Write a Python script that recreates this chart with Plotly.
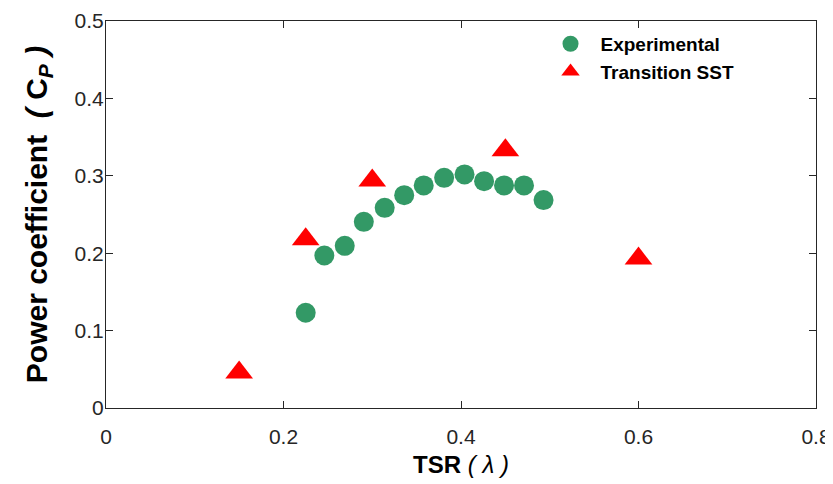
import plotly.graph_objects as go

# Experimental data
exp_tsr = [0.225, 0.246, 0.269, 0.2905, 0.314, 0.336, 0.358, 0.381, 0.404, 0.426, 0.4485, 0.471, 0.493]
exp_cp = [0.123, 0.197, 0.2095, 0.2405, 0.2586, 0.275, 0.2876, 0.2974, 0.3018, 0.2931, 0.2876, 0.2876, 0.2686]

# Transition SST simulation
sst_tsr = [0.15, 0.225, 0.30, 0.45, 0.60]
sst_cp = [0.046, 0.218, 0.294, 0.333, 0.193]

x_ticks = [0, 0.2, 0.4, 0.6, 0.8]
y_ticks = [0, 0.1, 0.2, 0.3, 0.4, 0.5]

axis_color = "#262626"
font_family = "Arial, Liberation Sans, sans-serif"

fig = go.Figure()
fig.add_trace(go.Scatter(
    x=exp_tsr, y=exp_cp, mode="markers", name="Experimental",
    marker=dict(symbol="circle", size=20, color="#339966", line=dict(width=0)),
))
fig.add_trace(go.Scatter(
    x=sst_tsr, y=sst_cp, mode="markers", name="Transition SST",
    marker=dict(symbol="triangle-up", size=24, color="#FF0000", line=dict(width=0)),
))

axis_common = dict(
    showline=True, linecolor=axis_color, linewidth=1, mirror="ticks",
    ticks="inside", ticklen=7, tickwidth=1, tickcolor=axis_color,
    showgrid=False, zeroline=False, automargin=False,
    tickfont=dict(family=font_family, size=21, color=axis_color),
)

# page body has an 8px default margin, so the figure is drawn 8px right/down
fig.update_layout(
    width=825, height=476,
    margin=dict(l=98, r=17, t=13, b=76, autoexpand=False),
    paper_bgcolor="white", plot_bgcolor="white",
    xaxis=dict(
        range=[0, 0.8], tickvals=x_ticks, ticktext=[str(v) for v in x_ticks],
        ticklabelstandoff=10,
        title=dict(text="<b>TSR</b> <i>( λ )</i>", font=dict(family=font_family, size=24, color="#000000"), standoff=8),
        **axis_common,
    ),
    yaxis=dict(
        range=[0, 0.5], tickvals=y_ticks, ticktext=[str(v) for v in y_ticks],
        ticklabelstandoff=-3,
        title=dict(text="<b>Power coefficient  <i>(</i> C<sub><i>P</i></sub> <i>)</i></b>", font=dict(family=font_family, size=30, color="#000000"), standoff=18),
        **axis_common,
    ),
    legend=dict(
        x=0.612, y=0.99, xanchor="left", yanchor="top",
        bgcolor="rgba(0,0,0,0)", borderwidth=0,
        font=dict(family=font_family, size=19, color="#000000", weight="bold"),
        itemsizing="trace", itemwidth=50, tracegroupgap=0,
    ),
    showlegend=True,
)

fig.write_html(
    "out.html",
    post_script=(
        "document.documentElement.style.overflow='hidden';"
        "document.body.style.overflow='hidden';"
        "document.querySelectorAll('.main-svg').forEach(function(s){s.style.overflow='visible';});"
    ),
)
